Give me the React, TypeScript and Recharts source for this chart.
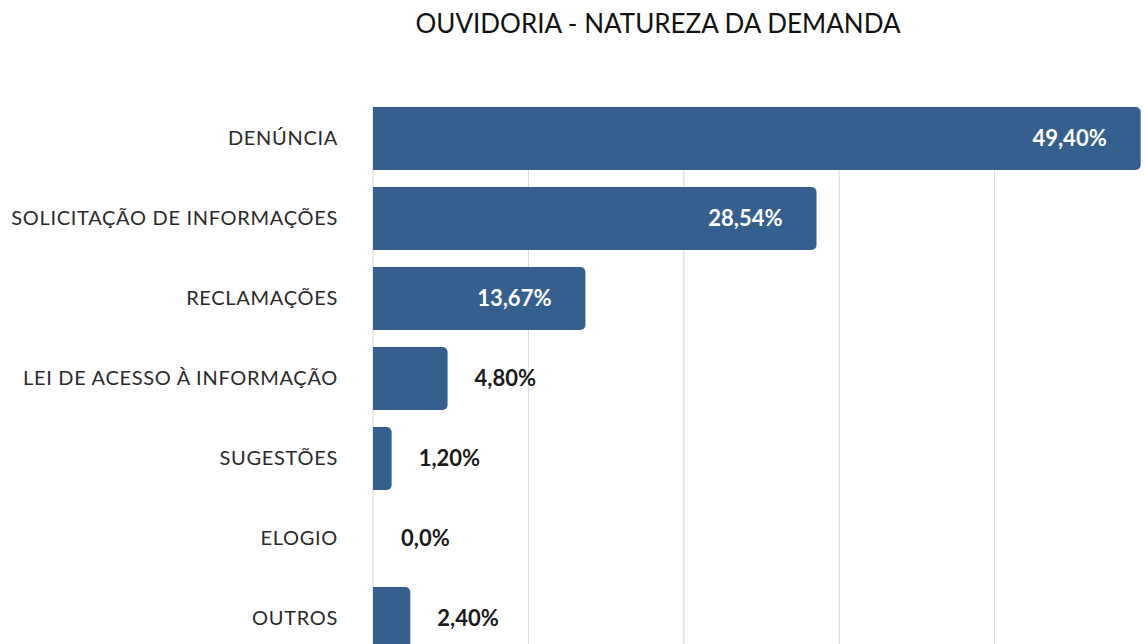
import React from 'react';
import { BarChart, Bar, XAxis, YAxis, CartesianGrid, LabelList, Cell } from 'recharts';

const categories = [
  'DENÚNCIA',
  'SOLICITAÇÃO DE INFORMAÇÕES',
  'RECLAMAÇÕES',
  'LEI DE ACESSO À INFORMAÇÃO',
  'SUGESTÕES',
  'ELOGIO',
  'OUTROS',
];
const values = [49.4, 28.54, 13.67, 4.8, 1.2, 0.0, 2.4];
const valueLabels = ['49,40%', '28,54%', '13,67%', '4,80%', '1,20%', '0,0%', '2,40%'];
const xTicks = [0, 10, 20, 30, 40, 50];

const data = categories.map((name, i) => ({ name, value: values[i], label: valueLabels[i] }));

const BAR_COLOR = '#355f8f';

function renderLabel(props: any) {
  const { x, y, width, height, value } = props;
  const inside = width > 150;
  const cy = y + height / 2;
  return (
    <text
      x={inside ? x + width - 34 : x + width + 27}
      y={cy}
      dy="0.35em"
      textAnchor={inside ? 'end' : 'start'}
      fill={inside ? '#ffffff' : '#1a1a1a'}
      fontFamily="Lato"
      fontWeight={700}
      fontSize={22}
    >
      {value}
    </text>
  );
}

export default function App() {
  return (
    <div
      style={{
        position: 'fixed',
        top: 0,
        left: 0,
        width: 1145,
        height: 644,
        overflow: 'hidden',
        background: '#fff',
      }}
    >
      <div
        style={{
          position: 'absolute',
          top: 7,
          left: 0,
          width: 1316,
          textAlign: 'center',
          fontFamily: 'Lato',
          fontSize: 26,
          color: '#111',
          lineHeight: '32px',
        }}
      >
        OUVIDORIA - NATUREZA DA DEMANDA
      </div>
      <BarChart
        width={1160}
        height={680}
        data={data}
        layout="vertical"
        margin={{ top: 98, right: 10, left: 0, bottom: 22 }}
      >
        <CartesianGrid horizontal={false} stroke="#d6d6d6" y={107} height={551} />
        <XAxis type="number" domain={[0, 50]} ticks={xTicks} hide />
        <YAxis
          type="category"
          dataKey="name"
          width={373}
          tickLine={false}
          axisLine={false}
          tickSize={0}
          tickMargin={35}
          tick={{ fill: '#2a2a2a', fontFamily: 'Lato', fontSize: 20, letterSpacing: 0.7 }}
        />
        <Bar dataKey="value" fill={BAR_COLOR} barSize={63} radius={[0, 5, 5, 0]} minPointSize={1} isAnimationActive={false}>
          {data.map((d, i) => (
            <Cell key={i} fill={d.value > 0 ? BAR_COLOR : 'transparent'} />
          ))}
          <LabelList dataKey="label" content={renderLabel} />
        </Bar>
      </BarChart>
    </div>
  );
}
